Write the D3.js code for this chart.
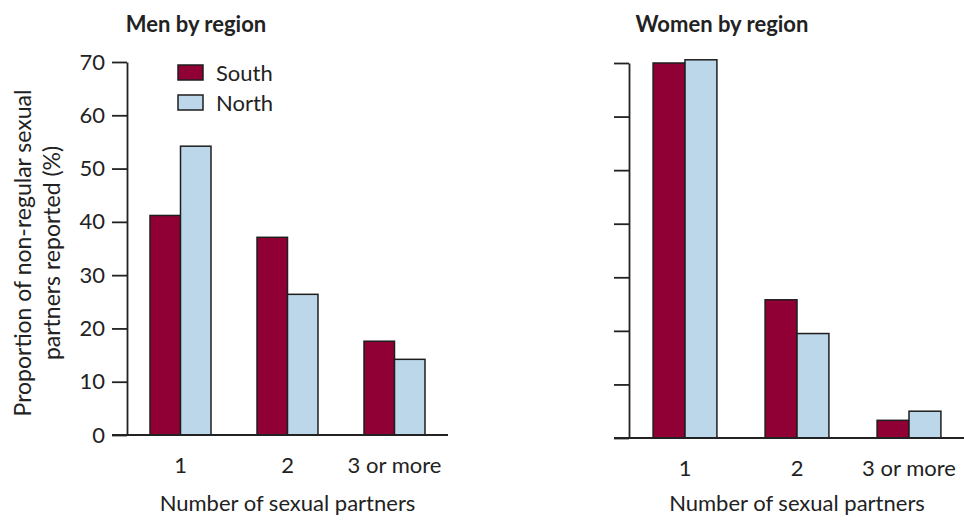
<!DOCTYPE html>
<html>
<head>
<meta charset="utf-8">
<script src="https://cdn.jsdelivr.net/npm/d3@7"></script>
<style>
  body { margin: 0; background: #fff; }
  text { font-family: Lato, "Open Sans", sans-serif; fill: #222; }
  .title { font-weight: bold; font-size: 22px; }
  .tick text { font-size: 22px; }
</style>
</head>
<body>
<div id="chart"></div>
<script>
// Data
var categories = ["1", "2", "3 or more"];
var seriesNames = ["South", "North"];
var menSouth = [41.2, 37.1, 17.6];
var menNorth = [54.2, 26.4, 14.2];
var womenSouth = [70.0, 25.8, 3.3];
var womenNorth = [70.6, 19.5, 5.0];
var yTicks = [0, 10, 20, 30, 40, 50, 60, 70];

var colors = { South: "#910034", North: "#bcd7e9" };

var svgWidth = 964;
var svgHeight = 520;

var svg = d3.select("#chart")
  .append("svg")
  .attr("width", svgWidth)
  .attr("height", svgHeight);

// panel layouts (axis position, band extent, line end)
var panels = [
  { title: "Men by region", south: menSouth, north: menNorth,
    axisX: 127, bandEnd: 448, lineEnd: 448, top: 62, bottom: 435, labels: true, titleX: 196 },
  { title: "Women by region", south: womenSouth, north: womenNorth,
    axisX: 629, bandEnd: 965, lineEnd: 964, top: 63, bottom: 438, labels: false, titleX: 722 }
];

panels.forEach(function(p) {
  var g = svg.append("g");

  var x = d3.scaleBand()
    .domain(categories)
    .range([p.axisX, p.bandEnd])
    .paddingInner(0.43)
    .paddingOuter(0.215);

  var xSub = d3.scaleBand()
    .domain(seriesNames)
    .range([0, x.bandwidth()]);

  var y = d3.scaleLinear()
    .domain([0, 70])
    .range([p.bottom, p.top]);

  // bars
  var rows = categories.map(function(c, i) {
    return { cat: c, values: [
      { name: "South", value: p.south[i] },
      { name: "North", value: p.north[i] }
    ] };
  });

  g.selectAll("g.group")
    .data(rows)
    .enter()
    .append("g")
    .attr("class", "group")
    .attr("transform", d => `translate(${x(d.cat)},0)`)
    .selectAll("rect")
    .data(d => d.values)
    .enter()
    .append("rect")
    .attr("x", d => xSub(d.name))
    .attr("y", d => y(d.value))
    .attr("width", xSub.bandwidth())
    .attr("height", d => y(0) - y(d.value))
    .attr("fill", d => colors[d.name])
    .attr("stroke", "#1e1e1e")
    .attr("stroke-width", 1.5);

  // y axis
  var leftAxis = d3.axisLeft(y)
    .tickValues(yTicks)
    .tickSize(15)
    .tickSizeOuter(0)
    .tickPadding(7)
    .tickFormat(p.labels ? d3.format("d") : "");

  var yAxis = g.append("g")
    .attr("transform", `translate(${p.axisX},0)`)
    .call(leftAxis);
  yAxis.selectAll("path, line").attr("stroke", "#222").attr("stroke-width", 1.8);

  // baseline across the plot
  g.append("line")
    .attr("x1", p.axisX - 15)
    .attr("x2", p.lineEnd)
    .attr("y1", y(0))
    .attr("y2", y(0))
    .attr("stroke", "#222")
    .attr("stroke-width", 1.8);

  // x axis labels
  var bottomAxis = d3.axisBottom(x).tickSize(0).tickPadding(22);
  var xAxis = g.append("g")
    .attr("transform", `translate(0,${y(0)})`)
    .call(bottomAxis);
  xAxis.select(".domain").remove();
  xAxis.selectAll("text").attr("font-size", 22).attr("fill", "#222");

  g.append("text")
    .attr("x", x("2") + x.bandwidth() / 2)
    .attr("y", 511)
    .attr("text-anchor", "middle")
    .attr("font-size", 22)
    .text("Number of sexual partners");

  g.append("text")
    .attr("class", "title")
    .attr("x", p.titleX)
    .attr("y", 32)
    .attr("text-anchor", "middle")
    .text(p.title);
});

// legend in the men panel
var legend = svg.append("g").attr("transform", "translate(178,65)");
seriesNames.forEach(function(name, i) {
  legend.append("rect")
    .attr("x", 0)
    .attr("y", i * 30)
    .attr("width", 25)
    .attr("height", 15)
    .attr("fill", colors[name])
    .attr("stroke", "#1e1e1e")
    .attr("stroke-width", 1.5);
  legend.append("text")
    .attr("x", 38)
    .attr("y", i * 30 + 16)
    .attr("font-size", 22)
    .text(name);
});

// y axis title, two lines
var yTitle = svg.append("text")
  .attr("transform", "translate(31,253) rotate(-90)")
  .attr("text-anchor", "middle")
  .attr("font-size", 23);
yTitle.append("tspan").attr("x", 0).attr("dy", 0).text("Proportion of non-regular sexual");
yTitle.append("tspan").attr("x", 0).attr("dy", 29).text("partners reported (%)");
</script>
</body>
</html>
